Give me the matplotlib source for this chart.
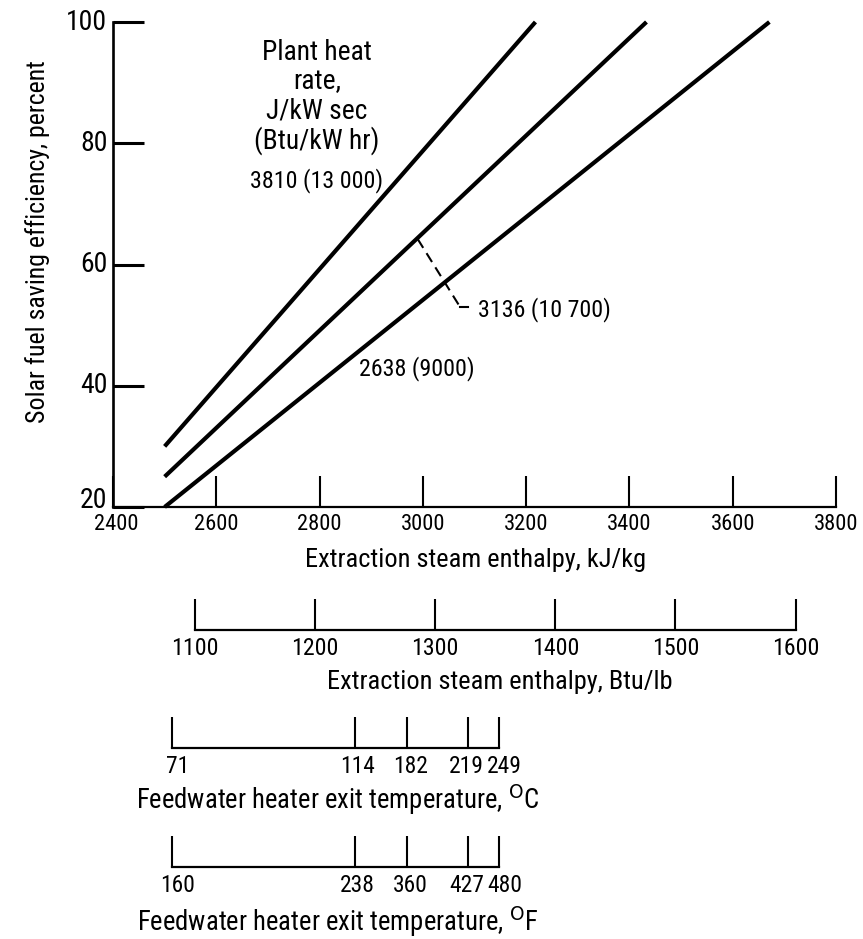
import matplotlib
matplotlib.use('Agg')
import matplotlib.pyplot as plt
from matplotlib import font_manager
from matplotlib.font_manager import FontProperties
from matplotlib.textpath import TextPath
from matplotlib.transforms import ScaledTranslation

# ---------------- data ----------------
heat_rate_labels = ['3810 (13 000)', '3136 (10 700)', '2638 (9000)']
curve_enthalpy = [[2500, 3218], [2500, 3433], [2500, 3671]]   # kJ/kg
curve_efficiency = [[30, 100], [25, 100], [20, 100]]          # percent

kj_ticks = [2400, 2600, 2800, 3000, 3200, 3400, 3600, 3800]
eff_ticks = [20, 40, 60, 80, 100]
btu_ticks = [1100, 1200, 1300, 1400, 1500, 1600]
KJ_PER_BTU = 2.326
temp_c_ticks = [71, 114, 182, 219, 249]
temp_f_ticks = [160, 238, 360, 427, 480]
temp_tick_enthalpy = [2515, 2868, 2970, 3087, 3147]  # position on kJ/kg scale


# ---------------- fonts: prefer a condensed face ----------------
def pick_font():
    entries = font_manager.fontManager.ttflist
    def regular(e):
        return e.style == 'normal' and str(e.weight) in ('400', 'normal', 'regular', 'book')
    pref = ['Liberation Sans Narrow', 'Roboto Condensed', 'DejaVu Sans Condensed',
            'Open Sans Condensed', 'Noto Sans Condensed']
    for p in pref:
        for e in entries:
            if e.name == p and regular(e):
                return e.fname
    for e in entries:
        cond = ('Condensed' in e.name or 'Narrow' in e.name or
                e.stretch in ('condensed', 'semi-condensed', 'extra-condensed'))
        if cond and regular(e) and 'Bold' not in e.fname and 'Light' not in e.fname:
            return e.fname
    return None

FONT_PATH = pick_font()

def FP(size):
    if FONT_PATH:
        return FontProperties(fname=FONT_PATH, size=size)
    return FontProperties(family='Liberation Sans', size=size)

def fit(s, target_px, cap=20.0):
    w = TextPath((0, 0), s, size=10, prop=FP(10)).get_extents().width * 100 / 72
    return min(cap, 10 * target_px / w)

big = fit('Extraction steam enthalpy, kJ/kg', 338)
ylab_size = fit('Solar fuel saving efficiency, percent', 361)
plant_size = fit('Plant heat', 107)
ann_size = fit('3136 (10 700)', 130)
xtick_size = fit('2600', 42)
ytick_size = fit('80', 25)
btu_size = fit('1100', 44)
temp_size = fit('182', 32)
feed_size = fit('Feedwater heater exit temperature, oC', 397)

W, H = 863, 939
def fx(px):
    return px / W
def fy(py):
    return 1 - py / H

fig = plt.figure(figsize=(W / 100, H / 100), dpi=100)

def shift(label, dx_px, dy_px):
    label.set_transform(label.get_transform() +
                        ScaledTranslation(dx_px / 100, dy_px / 100, fig.dpi_scale_trans))

L, R = 113, 836
ax = fig.add_axes([fx(L), fy(507), fx(R) - fx(L), fy(22) - fy(507)])
for xs, ys in zip(curve_enthalpy, curve_efficiency):
    ax.plot(xs, ys, color='black', lw=3.0, solid_capstyle='butt', clip_on=False)
ax.set_xlim(2400, 3800)
ax.set_ylim(20, 100)
ax.spines['top'].set_visible(False)
ax.spines['right'].set_visible(False)
ax.spines['left'].set_linewidth(1.9)
ax.spines['bottom'].set_linewidth(1.6)
ax.set_xticks(kj_ticks)
ax.set_xticklabels([str(v) for v in kj_ticks])
ax.set_yticks(eff_ticks)
ax.set_yticklabels([str(v) for v in eff_ticks])
ax.tick_params(axis='x', direction='in', length=22, width=1.5, pad=5)
ax.tick_params(axis='y', direction='in', length=22, width=2.2, pad=4)
for t in ax.get_xticklabels():
    t.set_fontproperties(FP(xtick_size))
for t in ax.get_yticklabels():
    t.set_fontproperties(FP(ytick_size))
    t.set_va('center')
shift(ax.get_yticklabels()[0], 0, 7)
shift(ax.get_xticklabels()[0], 3, 0)

# annotations
ax.text(2795, 87.6, 'Plant heat\nrate,\nJ/kW sec\n(Btu/kW hr)', ha='center', va='center',
        fontproperties=FP(plant_size), linespacing=1.1)
ax.text(2795, 73.9, heat_rate_labels[0], ha='center', va='center', fontproperties=FP(ann_size))
ax.text(3107, 52.5, heat_rate_labels[1], ha='left', va='center', fontproperties=FP(ann_size))
ax.text(2876, 42.9, heat_rate_labels[2], ha='left', va='center', fontproperties=FP(ann_size))
ax.plot([2990, 3072], [64.2, 53.0], color='black', lw=1.5, ls=(0, (5, 3)), clip_on=False)
ax.plot([3072, 3088], [53.0, 53.0], color='black', lw=1.5, clip_on=False)

fig.text(fx(38), fy(242), 'Solar fuel saving efficiency, percent', rotation=90,
         ha='center', va='center', fontproperties=FP(ylab_size))
fig.text(fx(476), fy(560), 'Extraction steam enthalpy, kJ/kg', ha='center', va='center',
         fontproperties=FP(big))


def scale_axis(py, positions, labels, bounds, size, offsets=None):
    a = fig.add_axes([fx(L), fy(py), fx(R) - fx(L), 0.03])
    a.set_xlim(2400, 3800)
    a.set_ylim(0, 1)
    for s in ('top', 'right', 'left'):
        a.spines[s].set_visible(False)
    a.spines['bottom'].set_bounds(*bounds)
    a.spines['bottom'].set_linewidth(1.6)
    a.set_yticks([])
    a.set_xticks(positions)
    a.set_xticklabels(labels)
    a.tick_params(axis='x', direction='in', length=22, width=1.5, pad=5)
    for i, t in enumerate(a.get_xticklabels()):
        t.set_fontproperties(FP(size))
        if offsets:
            shift(t, offsets[i], 0)
    a.patch.set_visible(False)
    return a

btu_pos = [b * KJ_PER_BTU for b in btu_ticks]
scale_axis(630, btu_pos, [str(b) for b in btu_ticks], (btu_pos[0], btu_pos[-1]), btu_size)
fig.text(fx(500), fy(682), 'Extraction steam enthalpy, Btu/lb', ha='center', va='center',
         fontproperties=FP(big))

temp_offsets = [5, 3, 3, -1, 6]
scale_axis(747.7, temp_tick_enthalpy, [str(t) for t in temp_c_ticks],
           (temp_tick_enthalpy[0], temp_tick_enthalpy[-1]), temp_size, temp_offsets)
fig.text(fx(338), fy(800), 'Feedwater heater exit temperature, $^{\\mathrm{O}}$C',
         ha='center', va='center', fontproperties=FP(feed_size))

scale_axis(866.7, temp_tick_enthalpy, [str(t) for t in temp_f_ticks],
           (temp_tick_enthalpy[0], temp_tick_enthalpy[-1]), temp_size, temp_offsets)
fig.text(fx(338), fy(922), 'Feedwater heater exit temperature, $^{\\mathrm{O}}$F',
         ha='center', va='center', fontproperties=FP(feed_size))

fig.savefig('out.png', dpi=100, facecolor='white')
